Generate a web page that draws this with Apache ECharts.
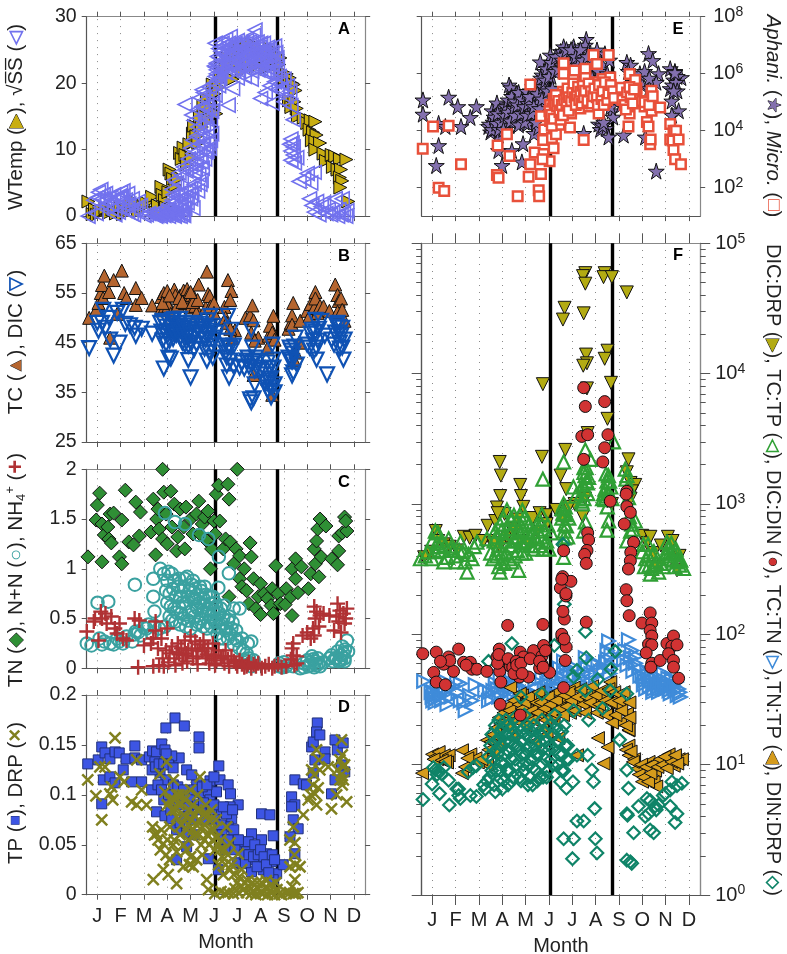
<!DOCTYPE html>
<html>
<head>
<meta charset="utf-8">
<title>Seasonal water chemistry</title>
<script src="https://cdn.jsdelivr.net/npm/echarts@6/dist/echarts.min.js"></script>
<style>
html,body{margin:0;padding:0;background:#fff;}
#main{width:787px;height:954px;}
</style>
</head>
<body>
<div id="main"></div>
<script>
var monthNames = ['J','F','M','A','M','J','J','A','S','O','N','D'];
var monthTicks = [1,2,3,4,5,6,7,8,9,10,11,12];
var boldMonths = [6.07,8.7];

// A
var wtemp = [[.62,2.2],[.8,.3],[.9,1],[.98,.2],[1.1,.6],[1.2,.8],[1.35,1.2],[1.5,.5],[1.65,1],[1.8,.4],[2,1.4],[2.1,.3],[2.25,.9],[2.45,1.8],[2.6,2.2],[2.75,.7],[2.95,1.4],[3.1,2],[3.35,2.9],[3.5,.6],[3.6,1.6],[3.75,4.4],[3.8,3.2],[3.9,2.4],[3.95,1.3],[4.05,3.6],[4.1,7],[4.18,6.4],[4.25,5.6],[4.35,4.6],[4.45,5.6],[4.55,9.5],[4.62,8.6],[4.7,10.3],[4.78,9.2],[4.85,7.8],[4.95,10.8],[5.05,8.8],[5.1,12.4],[5.15,13.6],[5.25,12],[5.33,11],[5.4,14.9],[5.48,13.4],[5.55,16.6],[5.62,15],[5.7,17.6],[5.78,14.4],[5.88,16.5],[5.95,19.8],[6.02,18.4],[6.1,15.4],[6.2,19.4],[6.3,21],[6.4,20.6],[6.5,22.4],[6.6,23.8],[6.7,22.6],[6.8,20.6],[6.9,24.6],[7,23.2],[7.1,25.4],[7.2,21.8],[7.3,24.2],[7.4,25.6],[7.5,23],[7.6,26],[7.7,24.6],[7.8,22.6],[7.9,25.4],[8,23.6],[8.1,25],[8.2,22.2],[8.3,24.4],[8.4,25.2],[8.5,23.4],[8.6,24.6],[8.72,24.2],[8.8,22.8],[8.85,23.8],[8.95,21.4],[9.05,20.8],[9.12,21.4],[9.25,20.8],[9.35,20],[9.42,19.8],[9.5,18.9],[9.22,17.4],[9.32,16.4],[9.45,17.2],[9.55,16.2],[9.6,15],[9.85,14.8],[10,14],[10.15,14.4],[10.35,14.2],[10.1,13],[10.25,12.6],[10.4,12.2],[10.2,11.4],[10.35,11.2],[10.55,11],[10.35,10],[10.7,9.4],[10.8,8.3],[11.05,9.2],[11.2,9],[11.4,8.6],[11.68,8.5],[11.1,7.4],[11.3,7],[11.45,7],[11.4,5.8],[11.5,5.3],[11.42,4.3],[11.76,2.2]];
var sqrtSS = [[.6,0],[.95,.4],[1,2.8],[1.05,3.6],[1.15,4],[1.25,3.2],[1.3,2.4],[1.4,1.6],[1.5,2.8],[1.6,1],[1.7,3.2],[1.75,.2],[1.85,2.6],[1.95,3],[2,3.6],[2.1,1.8],[2.1,3.8],[2.2,2.4],[2.3,.8],[2.3,3.4],[2.45,.4],[2.55,.2],[2.65,1],[2.75,2.2],[3,.1],[3.1,.2],[3.2,.4],[3.4,.2],[3.5,0],[3.6,.6],[3.7,0],[3.8,1],[3.9,.2],[4,.8],[4.05,0],[4.15,.2],[4.2,1.4],[4.3,0],[4.4,.6],[4.5,1.6],[4.55,0],[4.65,.4],[4.75,1.2],[4.35,2.2],[4.45,3.2],[4.6,3.6],[4.7,2.4],[4.8,3],[4.9,3.8],[5,4.2],[5,2.6],[5.15,4.8],[5.3,3.8],[5.4,4.8],[5.45,5.4],[4.2,4],[4.3,5.4],[4.4,5],[4.5,6.5],[4.6,6],[4.7,7.4],[4.8,6.8],[4.9,8.6],[5,7.8],[5.1,9.4],[5.2,7],[5.3,10.6],[5.4,9.2],[5.5,7.2],[5.55,10.8],[5.65,9.6],[5.8,10.2],[5.85,11.4],[5.9,12.4],[5.7,13.2],[5.5,11.8],[5.25,12],[5.4,12.8],[5.1,11.4],[5,10.2],[4.76,16.8],[5.05,15.2],[5.15,14.4],[5.3,16],[5.4,17.8],[5.5,16.5],[5.55,18.6],[5.6,15],[5.7,17.6],[5.8,19.4],[5.85,14.6],[5.95,17],[6,20],[6.05,18.2],[6.2,19.6],[6.61,16.7],[6.1,22],[6.05,21],[6.1,23],[6.05,26],[6.2,22.6],[6.3,21.8],[6.2,25.2],[6.35,26],[6.5,26.6],[6.7,27],[6.9,26],[6.4,24.4],[6.5,23.2],[6.6,25.4],[6.7,22.4],[6.8,24.6],[6.9,25.8],[7,23.6],[7,26.4],[7.1,24.8],[7.2,25.8],[7.2,22.8],[7.3,24.2],[7.4,26.4],[7.5,25],[7.5,22.4],[7.6,26],[7.7,27.2],[7.76,28],[7.8,25.6],[7.8,23.4],[7.9,24.6],[8,26],[8,22.2],[8.1,25],[8.2,23.4],[8.3,25.4],[8.3,21.6],[8.4,24],[8.5,22.6],[8.6,25.6],[8.6,20.2],[8.7,23.8],[7,20.8],[7.3,21],[7.6,20.6],[6.8,19.2],[8,17.7],[8.2,18.6],[8.4,19.6],[8.5,17],[8.7,19],[8.85,20],[9,17.2],[9.1,18],[9.25,18.8],[9.3,16.6],[9.4,14.5],[9.3,11.6],[9.35,11],[9.4,10.4],[9.25,10.8],[9.3,9.8],[9.4,9.2],[9.55,8.8],[9.3,8.4],[9.45,8],[9.65,5.2],[9.85,5.6],[10,6.4],[10.15,5],[10.3,6.6],[10.1,2.6],[10.2,1.6],[10.3,.6],[10.4,2.2],[10.5,.2],[10.6,1.4],[10.7,2],[10.8,.4],[10.9,1],[11,.2],[11.1,.6],[11.2,2.6],[11.3,0],[11.35,1],[11.45,.2],[11.5,2.6],[11.55,.4],[11.65,0],[11.7,.8],[6.15,24],[6.25,23.8],[6.3,24.8],[6.35,22.8],[6.42,25.6],[6.48,21.6],[6.55,24],[6.62,22.8],[6.62,26],[6.7,24],[6.75,25.4],[6.78,23],[6.85,23.4],[6.85,21.8],[6.92,24.4],[6.95,22.6],[7.02,25],[7.05,21.9],[7.1,23.4],[7.15,26],[7.18,24.4],[7.25,23],[7.28,25],[7.33,22.2],[7.38,25],[7.42,23.2],[7.45,24.2],[7.52,26.2],[7.55,23.6],[7.6,24.4],[7.62,21.8],[7.68,25.4],[7.72,23],[7.75,24.2],[7.85,26.2],[7.88,22],[7.92,23.4],[7.95,25.4],[8.02,24.2],[8.05,23],[8.12,26],[8.15,21.6],[8.18,24.4],[8.25,22.4],[8.28,24.8],[8.35,23],[8.38,25.2],[8.45,21.4],[8.48,24.6],[8.55,23.4],[8.62,21.8],[8.65,24.6],[8.72,22.4],[8.8,21],[8.9,19],[9,20.6],[9.15,19.6],[6.1,21.4],[6.18,21.2],[6.25,20.8],[6.08,22.4],[6.02,22.6],[6.15,20.4],[3.45,.5],[3.55,.1],[3.65,.3],[3.75,.5],[3.85,.1],[3.95,.4],[4.1,.6],[4.25,.3],[4.35,.9],[4.45,.1],[4.6,1],[4.7,.1],[4.2,2.4],[4.05,1.8],[4.25,3.2],[4.55,2.6],[4.85,2],[5.05,3.4],[5.1,1.2],[.85,2.4],[1.15,1.4],[1.2,2.6],[1.35,3.4],[1.55,1.8],[1.8,1.4],[1.9,.6],[2.05,2.8],[2.35,1.8],[2.5,2.6],[2.85,1.6],[5.15,6.4],[5.25,8.4],[5.35,6.2],[5.45,8.2],[5.6,8.6],[5.7,9.8],[5.75,11],[5.3,13.4],[5.55,13.8],[5.65,14.6],[5.75,16],[5.9,15.8],[5.65,16.4],[5.5,19],[5.9,18.4]];

// B
var tc = [[.65,50],[.95,51.6],[1.05,53],[1.15,55],[1.2,56.6],[1.3,58.5],[1.25,54],[1.5,55.2],[1.7,57.6],[2.05,59.5],[2.15,55],[2.25,54],[2.65,56],[2.65,52.6],[2.9,54],[3.35,52.5],[3.7,51.5],[3.75,54.2],[3.85,55],[3.9,52.3],[3.95,53.6],[4,55.4],[4.05,52.4],[4.15,50.8],[4.3,55.7],[4.35,54.5],[4.45,52.6],[4.55,54.5],[4.7,55.5],[4.75,53],[4.85,55.8],[4.9,54.8],[4.95,53.4],[5,52.1],[5.05,54.6],[5.15,54.2],[5.2,52.4],[5.25,50.9],[5.35,56.7],[5.65,52],[5.7,59.3],[5.75,54.8],[5.82,54.4],[5.85,52.3],[6,53],[6,51],[6.45,52.2],[6.5,50],[6.55,49],[6.6,57.6],[6.75,55.4],[6.7,53.6],[6.9,47.5],[6.8,46],[6.7,47.8],[7.35,50],[7.55,50.5],[7.65,52.5],[7.7,49.5],[7.6,47],[7.9,46],[7.75,45.4],[8.3,44],[8.35,46.4],[8.4,48.4],[8.55,50.4],[8.5,47],[8.6,45.6],[9.2,47.8],[9.3,49],[9.35,50.5],[9.35,48.6],[9.4,53],[9.7,49.4],[10,51.4],[10.1,50.4],[10.15,52.8],[10.3,52],[10.35,55.2],[10.35,53.9],[10.45,51],[10.55,52.4],[10.7,52.3],[10.95,51.4],[11.2,56.7],[11.3,54.6],[11.35,53.4],[11.3,51.2],[11.45,53.9],[11.6,49.4],[11.5,51.6],[9.65,45],[9.5,43],[9.45,41.4],[7.7,38.5],[8.5,34.5],[1.55,46],[1.85,50.8],[3.8,53],[4.1,54.5],[4.5,54],[4.65,53.2],[5.1,53.2],[5.3,53.6],[5,55.2]];
var dic = [[.65,43.9],[1,49],[1.05,47.4],[1.2,49],[1.25,51.6],[1.35,48],[1.5,50],[1.55,45.6],[1.7,42.4],[1.85,51],[1.95,45],[2.1,51.6],[2.2,48.8],[2.4,48.5],[2.6,48],[2.65,46.4],[2.9,47.8],[3.35,46.8],[3.7,49],[3.75,47.2],[3.8,45.4],[3.85,39.8],[3.95,48.2],[3.95,44.8],[4.05,42],[4.15,41.8],[4.15,47.4],[4.2,49.6],[4.25,45.8],[4.35,48.4],[4.4,46.6],[4.5,49],[4.6,47.4],[4.65,45],[4.8,48.8],[4.85,46],[4.9,44.4],[4.9,41.5],[5,47.8],[5,38],[5.1,48.4],[5.15,46.4],[5.15,43.6],[5.3,47.6],[5.5,48.4],[5.55,45.8],[5.6,43.8],[5.7,41.4],[5.72,49.5],[5.75,46.6],[5.85,50.4],[5.9,47.4],[5.9,44.4],[5.95,42],[6,48.4],[6.1,47],[6.45,44.4],[6.5,43],[6.55,40.4],[6.6,50.4],[6.6,44],[6.65,38],[6.75,47.6],[6.7,41.4],[6.85,44.4],[6.85,40.2],[7.1,40],[7.4,41.4],[7.5,40.2],[7.6,47.6],[7.65,44],[7.7,41.2],[7.75,36.6],[7.55,33.6],[7.6,33],[7.7,33.8],[7.85,40],[7.9,41.4],[8,39.6],[8.2,37],[8.25,38.6],[8.3,41],[8.3,35.4],[8.4,36],[8.45,37.8],[8.45,34],[8.5,44.6],[8.55,41.6],[8.6,36.6],[9.2,42],[9.3,43.4],[9.35,41.2],[9.4,39],[9.45,44.2],[9.5,46],[9.55,40.6],[10,44.6],[10.15,46.8],[10.25,45.4],[10.35,49.6],[10.35,47.2],[10.4,44],[10.4,41.6],[10.6,49.4],[10.75,46.4],[10.85,38.6],[11.05,45.6],[11.15,44.6],[11.3,49],[11.35,47],[11.4,45],[11.5,48],[11.6,45.6],[11.55,41.6],[11.4,43.8],[3.8,49.4],[3.9,47],[4,46.4],[4.05,49],[4.1,45.4],[4.2,48],[4.3,46.8],[4.3,49.8],[4.45,47.6],[4.55,46],[4.55,49.8],[4.7,48],[4.7,46.4],[4.75,44.6],[4.95,47],[5.05,49],[5.05,45],[5.2,47.2],[5.25,44.8],[5.4,48.8],[5.45,46.8],[5.6,47.8],[5.65,45.6],[5.8,48],[5.8,43],[5.95,45.6],[6.05,46],[6.5,45.4],[6.55,42],[6.7,44],[7.2,41],[7.3,39.8],[7.45,42],[7.6,40.8],[7.75,39.4],[7.8,42],[8.35,37.4],[8.4,39.8],[8.5,36],[8.55,40],[8.6,35],[9.25,44],[9.3,41.6],[9.4,42.8],[9.35,38.4],[10.1,44],[10.2,47.6],[10.3,43.4],[10.45,45.4],[10.5,47.8],[11.2,47],[11.25,48.6],[11.45,46.4],[11.35,48.2],[11.5,44]];

// C
var tn = [[.6,1.12],[.95,1.49],[1,1.64],[1.1,1.76],[1.2,1.45],[1.2,1.07],[1.3,1.34],[1.45,1.42],[1.5,1.3],[1.55,1.55],[1.7,1.56],[1.6,1.26],[1.95,1.12],[2.05,1.05],[2.05,1.49],[2.2,1.79],[2.35,1.27],[2.55,1.24],[2.65,1.67],[2.8,1.33],[2.85,1.57],[3.3,1.37],[3.4,1.7],[3.5,1.14],[3.55,1.5],[3.6,1.6],[3.65,1.4],[3.8,2],[3.8,1.3],[3.85,1.77],[3.95,1.55],[4,1.25],[4.15,1.78],[4.2,1.42],[4.3,1.65],[4.4,1.18],[4.45,1.32],[4.55,1.6],[4.7,1.42],[4.75,1.2],[4.8,1.62],[5,1.5],[5.1,1.35],[5.25,1.55],[5.35,1.68],[5.4,1.35],[5.5,1.45],[5.6,1.52],[5.7,1.28],[5.75,1.58],[5.85,1],[5.9,1.2],[6,1.48],[6.05,1.35],[6.1,1.75],[6.2,1.84],[6.25,1.48],[6.4,1.2],[6.5,1.3],[6.6,1.85],[6.65,1.7],[6.7,1.27],[6.65,.72],[6.85,1.05],[6.95,1.2],[7,2],[7.1,.9],[7.1,1.13],[7.2,.82],[7.3,1],[7.4,.78],[7.5,.65],[7.55,1.26],[7.6,1.12],[7.7,.9],[7.8,.6],[7.9,.72],[8,.85],[8,.54],[8.15,.75],[8.3,.7],[8.45,.63],[8.5,.8],[8.55,.55],[8.65,1.03],[8.75,.75],[8.85,.65],[9.05,.64],[9.1,.8],[9.3,.72],[9.35,1],[9.5,1.1],[9.5,.9],[9.6,.76],[9.35,.53],[9.75,1.02],[10.05,.8],[10.15,.95],[10.3,1.2],[10.4,1.28],[10.45,1.4],[10.5,.92],[10.35,1.05],[10.55,1.5],[10.6,1.12],[10.8,1.43],[11.05,1.1],[11.3,1.04],[11.35,1.18],[11.35,1.33],[11.5,1.36],[11.6,1.52],[11.7,1.38],[11.65,1.48]];
var nn = [[.55,.25],[.75,.23],[1.01,.66],[1.1,.3],[1.47,.67],[1.3,.27],[1.7,.24],[1.95,.27],[2.25,.32],[2.5,.27],[2.61,.84],[2.65,.37],[2.85,.33],[3.1,.4],[3.35,.35],[3.4,.9],[3.4,.72],[3.45,.57],[3.65,.4],[3.7,1],[3.85,.95],[3.9,.42],[3.95,.78],[4,.66],[4.05,.97],[4.1,.52],[4.2,.95],[4.25,.8],[4.3,.6],[4.35,.47],[4.5,.9],[4.55,.72],[4.6,.55],[4.7,.82],[4.8,.65],[4.85,.92],[4.9,.48],[5,.78],[5.05,.58],[5.1,.88],[5.2,.7],[5.25,.44],[5.3,.6],[5.4,.82],[5.45,.5],[5.55,.7],[5.6,.82],[5.7,.4],[5.75,.55],[5.85,.65],[5.95,.72],[6,.48],[6.1,.62],[6.15,.35],[6.25,.55],[6.35,.45],[6.45,.63],[6.5,.38],[6.6,.3],[6.65,.52],[6.8,.46],[6.85,.6],[6.9,.3],[7,.28],[7.1,.2],[7.1,.6],[7.2,.3],[7.45,.25],[7.6,.27],[7.5,.1],[7.6,.02],[8.8,.05],[9,.06],[9.4,.02],[9.7,0],[9.85,.05],[10,.08],[10.1,.03],[10.2,.12],[10.3,.01],[10.35,.07],[10.45,.1],[10.55,.02],[10.7,.06],[10.95,.1],[11.05,.13],[11.2,.1],[11.3,.17],[11.4,.09],[11.5,.22],[11.6,.1],[11.7,.28],[11.75,.17],[3.9,1.56],[4.33,1.47],[4.76,1.45],[5.36,1.34],[5.76,1.3],[6.21,1.12],[6.64,.955],[6.19,.81],[4,.88],[4.1,.75],[4.15,.62],[4.2,.48],[4.3,.88],[4.35,.72],[4.4,.56],[4.45,.82],[4.5,.62],[4.55,.44],[4.6,.78],[4.65,.66],[4.7,.5],[4.75,.9],[4.8,.42],[4.9,.72],[4.95,.56],[5,.4],[5.05,.84],[5.1,.7],[5.15,.52],[5.2,.8],[5.25,.62],[5.3,.74],[5.35,.46],[5.4,.66],[5.45,.78],[5.5,.58],[5.55,.42],[5.6,.64],[5.65,.74],[5.7,.6],[5.75,.46],[5.8,.72],[5.85,.52],[5.9,.42],[5.95,.58],[6.05,.66],[6.1,.48],[6.15,.56],[6.2,.42],[6.3,.6],[6.4,.5],[6.55,.4],[6.6,.48],[6.7,.34],[6.75,.4],[6.95,.38],[6.25,.3],[6.4,.3],[6.85,.24],[7.25,.18],[7.4,.15],[7.35,.08],[7.55,.05],[7.7,.08],[8.8,.02],[8.95,.01],[9.1,.02],[9.85,.01],[10.05,.02],[10.15,.06],[10.25,.09],[10.4,.03],[10.5,.05],[11.1,.07],[11.25,.1],[11.35,.07],[11.45,.13],[11.55,.15],[11.62,.19],[11.45,.08],[11.6,.07],[2.6,.34],[2.75,.36],[3,.41],[3.2,.44],[3.45,.43],[1.2,.24],[1.55,.25],[1.85,.3],[2.1,.25]];
var nh4 = [[.55,.37],[.85,.47],[.9,.5],[1.05,.28],[1.15,.57],[1.2,.5],[1.35,.55],[1.4,.45],[1.6,.52],[1.75,.4],[1.85,.35],[1.95,.45],[2.1,.3],[2.25,.28],[2.6,.5],[2.8,.48],[2.75,.01],[3,.23],[3.3,.25],[3.4,.3],[3.4,.02],[3.5,.47],[3.5,.38],[3.6,.2],[3.65,.03],[3.75,.3],[3.8,.1],[3.85,.02],[3.95,.18],[4,.4],[4.05,.06],[4.2,.22],[4.3,.1],[4.35,.03],[4.45,.25],[4.5,.14],[4.65,.05],[4.75,.28],[4.8,.15],[4.85,.07],[5,.32],[5.05,.2],[5.2,.27],[5.25,.12],[5.3,.04],[5.4,.24],[5.5,.17],[5.55,.28],[5.65,.1],[5.75,.2],[5.8,.05],[5.95,.25],[6,.13],[6.05,.03],[6.2,.18],[6.3,.1],[6.45,.05],[6.5,.18],[6.65,.02],[6.75,.12],[6.85,.07],[7,.02],[7.1,.08],[7.3,.01],[7.45,.04],[7.5,.06],[7.6,0],[7.8,.02],[7.9,.05],[8.05,0],[8.2,.02],[8.35,.04],[8.5,0],[8.6,.02],[8.75,.04],[8.9,.01],[9.1,.02],[9.3,.09],[9.35,.2],[9.4,.25],[9.4,.13],[9.45,.03],[9.55,.05],[9.55,.12],[9.8,.33],[10,.36],[10.15,.3],[10.25,.4],[10.3,.33],[10.3,.62],[10.35,.5],[10.4,.57],[10.5,.42],[10.55,.53],[10.7,.55],[10.95,.53],[11.15,.38],[11.25,.52],[11.3,.65],[11.35,.47],[11.4,.58],[11.45,.36],[11.55,.55],[11.6,.45],[11.65,.5],[11.7,.6],[4.1,.15],[4.4,.16],[4.6,.2],[4.7,.13],[4.9,.18],[5.1,.1],[5.3,.18],[5.6,.2],[5.7,.14],[5.9,.12],[6.1,.08],[6.4,.12],[6.6,.09],[6.95,.05],[7.2,.04],[7.4,.02],[7.7,.04]];

// D
var tp = [[.59,.131],[1.04,.135],[1.19,.148],[1.33,.142],[1.19,.091],[1.26,.115],[1.54,.118],[1.54,.136],[1.76,.143],[1.94,.142],[1.76,.112],[2.11,.125],[2.23,.136],[2.47,.113],[2.61,.149],[2.61,.137],[2.9,.113],[2.9,.135],[3.23,.138],[3.37,.144],[3.54,.143],[3.47,.133],[3.76,.151],[3.9,.145],[3.94,.167],[4.33,.177],[4.73,.169],[4.51,.137],[4.19,.139],[3.95,.141],[4.83,.125],[5.36,.158],[5.36,.147],[3.54,.083],[3.9,.079],[3.33,.105],[3.69,.122],[3.94,.115],[4.26,.11],[4.33,.098],[4.19,.076],[4.4,.065],[4.4,.035],[4.83,.048],[4.61,.093],[5.26,.11],[4.9,.088],[5.4,.102],[5.76,.036],[5.83,.114],[5.76,.104],[5.83,.095],[6.11,.103],[6.21,.129],[6.26,.115],[6.61,.11],[6.71,.101],[7.04,.09],[6.69,.088],[6.76,.076],[6.26,.083],[6.19,.068],[6.54,.081],[6.61,.068],[6.19,.025],[7.11,.05],[7.26,.053],[7.61,.061],[7.47,.053],[7.19,.031],[7.54,.035],[7.61,.023],[7.4,.043],[8.04,.081],[8.4,.08],[8.54,.059],[8.04,.055],[7.97,.031],[8.11,.025],[8.47,.033],[8.69,.021],[8.54,.015],[8.26,.041],[8.97,.03],[9.33,.098],[9.47,.09],[9.33,.088],[9.4,.075],[9.61,.066],[9.26,.058],[9.47,.041],[9.47,.115],[9.83,.111],[9.97,.11],[10.19,.148],[10.26,.153],[10.43,.172],[10.4,.163],[10.54,.16],[10.33,.135],[10.26,.122],[10.76,.143],[10.76,.136],[11.04,.101],[11.19,.155],[11.29,.145],[11.19,.115],[11.54,.152],[11.61,.123],[11.47,.13],[3.35,.125],[3.5,.128],[3.65,.131],[3.6,.11],[3.75,.105],[3.85,.131],[3.85,.095],[4.05,.13],[4.05,.1],[4.15,.085],[4.25,.127],[4.45,.108],[4.5,.09],[4.55,.072],[4.7,.105],[4.75,.078],[4.85,.062],[4.95,.098],[5.05,.12],[5.05,.075],[5.15,.105],[5.15,.06],[5.3,.09],[5.45,.085],[5.5,.108],[5.55,.092],[5.65,.075],[5.7,.11],[5.9,.085],[6,.118],[6,.09],[6.05,.075],[6.3,.07],[6.35,.06],[6.4,.088],[6.45,.055],[6.5,.045],[6.6,.055],[6.8,.085],[6.85,.065],[6.9,.045],[7,.032],[7.05,.055],[7.3,.04],[7.35,.032],[7.5,.04],[7.7,.038],[7.75,.05],[7.85,.028],[7.9,.04],[8,.045],[8.15,.038],[8.25,.03],[8.35,.022],[8.5,.04],[8.6,.035]];
var drp = [[.59,.115],[.94,.099],[1.19,.075],[1.11,.128],[1.33,.128],[1.54,.101],[1.66,.095],[1.76,.157],[1.61,.108],[1.97,.118],[2.14,.113],[2.47,.093],[2.69,.135],[2.69,.09],[2.9,.105],[3.11,.09],[3.4,.015],[3.37,.068],[3.54,.061],[3.83,.051],[3.83,.025],[4.04,.02],[4.4,.011],[3.9,.103],[3.69,.121],[3.97,.133],[4,.09],[4.26,.115],[4.4,.078],[4.61,.091],[4.11,.068],[4.4,.043],[4.69,.028],[5.11,.028],[4.9,.055],[4.83,.045],[5.26,.035],[5.4,.118],[5,.105],[5.26,.085],[5.61,.081],[5.69,.015],[5.76,.005],[5.83,.074],[6.11,.057],[6.04,.001],[6.26,.045],[6.4,.02],[6.54,.068],[6.47,.001],[6.69,.052],[6.83,.001],[7.04,.041],[7.19,.025],[7.26,.005],[7.4,.002],[7.5,.008],[7.6,.001],[7.7,.004],[7.8,0],[7.9,.006],[8,.002],[8.1,.001],[8.2,.007],[8.3,0],[8.4,.004],[8.5,.002],[8.6,0],[8.7,.005],[8.8,.001],[8.9,0],[6.3,.003],[6.6,.002],[6.9,.006],[7.05,.002],[7.15,.008],[9.25,.002],[9.35,.008],[9.5,.001],[9.6,.002],[4.5,.1],[4.7,.08],[4.9,.07],[5.1,.09],[5.2,.06],[5.35,.075],[5.5,.068],[5.6,.055],[5.9,.085],[6,.065],[6.15,.05],[6.35,.038],[6.5,.03],[6.75,.03],[4.3,.055],[4.55,.06],[5,.038],[5.5,.04],[9.4,.068],[9.47,.052],[9.26,.055],[9.47,.015],[9.4,.001],[9.26,.028],[9.69,.028],[9.83,.08],[10.04,.095],[10.19,.125],[10.33,.101],[10.4,.145],[10.47,.107],[10.54,.125],[10.9,.128],[11.04,.086],[11.26,.1],[11.4,.115],[11.54,.128],[11.47,.155],[11.69,.093],[11.6,.13],[11.5,.11],[11.4,.135],[3.45,.06],[3.6,.055],[3.7,.045],[3.75,.065],[3.95,.04],[4,.055],[4.1,.095],[4.1,.035],[4.2,.085],[4.25,.05],[4.3,.095],[4.35,.085],[4.4,.1],[4.5,.09],[4.6,.07],[4.65,.1],[4.7,.05],[4.75,.095],[4.8,.078],[4.85,.065],[4.95,.085],[4.95,.03],[5.05,.075],[5.1,.065],[5.15,.08],[5.25,.07],[5.3,.1],[5.35,.06],[5.4,.085],[5.45,.05],[5.55,.08],[5.6,.07],[5.65,.09],[5.7,.06],[5.75,.08],[5.8,.05],[5.85,.065],[5.95,.055],[6.05,.045],[6.1,.075],[6.2,.03],[6.3,.055],[6.45,.045],[6.6,.04],[6.7,.025],[6.85,.02],[7,.012],[7.1,.018],[7.3,.012],[7.45,.014],[7.65,.012],[7.85,.012],[8.05,.012],[8.25,.014],[8.45,.01],[8.65,.012],[9.1,.002],[9.45,.04],[9.5,.03],[10.15,.1],[10.25,.11],[10.3,.12],[10.4,.09],[10.5,.135],[11.45,.12],[11.5,.14],[11.3,.125],[11.55,.115]];

// E
var aphani = [[.6,1.2e5],[.6,3.8e4],[1.27,1.8e4],[1.56,1.4e4],[1.27,3e3],[1.17,6e2],[1.7,1.5e5],[2.09,7e4],[2.23,1.4e4],[2.63,2.9e4],[2.89,7e4],[3.41,1.4e4],[3.5,9e3],[3.56,5e4],[3.77,9.4e4],[3.84,7e3],[3.84,2e3],[3.99,6e2],[4.29,4e5],[4.36,3.2e5],[4.41,2e3],[4.84,8e2],[4.89,3.5e3],[5.36,8e3],[5.3,1.3e5],[4.7,1.4e5],[3.6,2e4],[3.7,1.2e4],[3.9,3e4],[4,1.6e4],[4.05,5e4],[4.15,2.4e4],[4.2,8e4],[4.3,1.5e4],[4.4,3.6e4],[4.45,6e4],[4.5,2.5e4],[4.6,2e5],[4.65,4.5e4],[4.75,2.2e4],[4.8,8e4],[4.9,3e4],[5,1.2e5],[5,5e4],[5.1,1.8e4],[5.2,7e4],[5.2,2.5e5],[5.4,3.5e4],[5.45,1e5],[5.5,5e5],[5.55,1.3e4],[5.6,2e5],[5.63,2.6e6],[5.7,9e5],[5.75,7e4],[5.8,1.2e6],[5.9,3e5],[6,1.2e5],[6.06,4.5e6],[6.1,8e5],[6.2,2e6],[6.3,2e5],[6.4,4e6],[6.5,6e6],[6.63,8.8e6],[6.7,3e6],[6.8,5e6],[6.9,2.5e6],[7.06,8.8e6],[7.1,6e6],[7.2,3.5e6],[7.3,5e5],[7.4,2e6],[7.49,8e3],[7.6,1.6e7],[7.56,1e7],[7.7,6e6],[7.8,3e6],[7.9,1.5e6],[8,6e5],[8.06,6.8e6],[8.13,1.7e4],[8.2,1.1e4],[8.3,2e6],[8.4,5e6],[8.45,1.2e4],[8.56,6e3],[8.6,3e6],[8.7,5e4],[8.75,3e4],[9,2e5],[9.1,8e4],[9.2,7e3],[9.34,2.5e6],[9.5,2e6],[9.7,8e5],[10,4e5],[10.13,6e3],[10.27,5.1e6],[10.45,2.9e6],[10.3,3e5],[10.7,1e6],[10.6,5e5],[10.6,3.8e2],[11.2,1.5e6],[11.4,1.2e6],[11.67,7.3e5],[11.35,6e5],[11.2,3e5],[11.3,4e5],[11.27,1.1e5],[11.56,5e4],[11.27,3.5e4],[3.45,1.7e4],[3.55,1.1e4],[3.65,3e4],[3.75,1.8e4],[3.8,4e4],[3.85,1.1e4],[3.95,2e4],[4.05,1.1e4],[4.1,3.5e4],[4.15,7e4],[4.25,4.5e4],[4.25,1.2e5],[4.35,2.2e4],[4.4,1.6e5],[4.5,6e4],[4.55,1.1e5],[4.55,3.5e4],[4.65,8e4],[4.7,2.2e5],[4.7,1.6e4],[4.8,4e4],[4.85,1.3e5],[4.95,7e4],[4.95,2e4],[5.05,2.4e5],[5.05,3.5e4],[5.1,9e4],[5.15,1.6e5],[5.25,4e4],[5.3,3.5e5],[5.35,7e4],[5.45,2e4],[5.5,2e5],[5.6,6e4],[5.65,7e5],[5.7,1.3e5],[5.75,3.5e5],[5.85,6e5],[5.9,1.5e6],[5.95,2.5e5],[6,8e5],[6.1,2.5e6],[6.15,3e5],[6.25,1.2e6],[6.3,4e6],[6.4,1.5e6],[6.55,3e6],[6.6,4.5e6],[6.75,7e6],[6.85,1.8e6],[6.95,7e6],[7,2.5e6],[7.15,4e6],[7.25,2e6],[7.35,7e6],[7.45,3e6],[7.65,4e6],[7.75,1.2e6],[7.85,7e5],[8.1,3e6],[8.15,1.2e6],[8.25,4e5],[8.3,1.5e4],[8.35,2e4],[8.5,1e6],[8.55,2e5],[8.6,1.2e5],[8.65,7e4],[8.65,1.5e5],[8.8,1.2e5],[9.4,1.2e6],[9.55,8e5],[9.6,5e5],[9.9,1e6],[10.1,1.2e6],[10.3,7e5],[11.5,8e5],[11.45,5e5],[11.5,2.5e5],[11.35,2.5e5],[11.4,1.1e6]];
var micro = [[.59,2.3e3],[1.03,1.4e4],[1.7,1.5e4],[2.23,6.6e2],[1.27,98],[1.51,76],[3.77,2.8e2],[3.84,2.2e2],[3.8,3e3],[4.2,7.4e3],[4.31,1.3e3],[4.66,50],[5.2,4.2e5],[5.13,240],[5.2,6.6e2],[5.56,81],[5.58,50],[5.66,300],[5.39,1.7e3],[5.77,1.5e3],[5.66,3.2e4],[5.8,1.1e4],[5.75,4.7e3],[6.2,2.4e3],[6.03,8.5e2],[5.72,1e3],[6.13,5.5e3],[6.3,7.5e3],[6.05,8e4],[6.2,1.3e5],[6.05,2.2e4],[6.15,6e4],[6.35,3e4],[6.45,1.6e4],[6.5,1.5e5],[6.6,2.3e5],[6.63,2.3e6],[6.63,1e6],[6.7,6e4],[6.9,1.3e4],[6.95,4e4],[7.09,1.3e6],[7.05,6e5],[7.05,2.8e5],[7.2,9e4],[7.35,6e4],[7.49,4.7e3],[7.56,1.5e6],[7.56,7e5],[7.6,3.5e5],[7.7,7e4],[7.75,2e5],[7.91,4.5e6],[7.99,5e5],[8.06,2.2e6],[8.1,1.2e5],[8.13,4e4],[8.2,2.8e5],[8.3,6.5e5],[8.4,1.8e5],[8.42,1e5],[8.56,4.5e6],[8.56,3e5],[8.63,7.4e5],[8.7,1.6e5],[9,2.6e5],[9.2,1.8e5],[9.3,3e5],[9.46,9.7e5],[9.41,1.4e4],[9.46,4e4],[9.41,7e4],[9.45,1.2e5],[9.55,2.2e5],[9.7,6e5],[9.75,3e5],[9.75,2e5],[10.1,7e4],[10.2,2e4],[10.27,1.4e4],[10.34,3.3e3],[10.36,4.9e3],[10.4,1.8e5],[10.4,1.1e5],[10.4,5e4],[10.77,6.5e4],[11.2,1.7e4],[11.34,1e4],[11.45,1e4],[11.2,4.9e3],[11.3,4.5e3],[11.56,4.9e3],[11.34,2.1e3],[11.41,1e3],[11.66,6.6e2],[6.02,4.8e4],[6.1,3.6e4],[6.12,1.5e4],[6.2,2.6e4],[6.25,9e4],[6.3,1.8e5],[6.35,7e4],[6.4,1.1e5],[6.45,4.5e4],[6.5,2.4e4],[6.55,8e4],[6.6,3.5e4],[6.65,1.2e5],[6.75,1.9e5],[6.75,9e4],[6.8,3e5],[6.85,1.5e5],[6.85,5e4],[6.95,1.1e5],[7,2.2e5],[7.05,4.5e5],[7.1,1.5e5],[7.15,8e4],[7.2,1.9e5],[7.25,3.5e5],[7.3,1.2e5],[7.35,2.3e5],[7.4,9e4],[7.45,3.8e5],[7.5,1.5e5],[7.55,2.5e5],[7.65,1.1e5],[7.7,4.5e5],[7.8,2.4e5],[7.85,9e4],[7.9,1.6e5],[7.95,3e5],[8.05,1.5e5],[8.1,8e4],[8.15,4e5],[8.25,1.3e5],[8.3,2.4e5],[8.35,8e4],[8.4,5e5],[8.5,1.2e5],[8.55,2e5],[8.65,4e5],[8.75,2.4e5],[8.8,1.4e5],[9.1,3.2e5],[9.15,1.2e5],[9.25,8e4],[9.3,5.5e4],[9.35,2.2e5],[9.45,3.4e5],[9.5,1.5e5],[9.6,9e4],[9.65,2.8e5],[10,1.1e5],[10.1,1e5],[10.3,8e4],[10.4,2.5e5],[10.45,1.6e5]];

// F
var dicDrp = [[7.56,5.9e4],[7.46,5.6e4],[8.39,5.9e4],[8.34,5.5e4],[8.7,5.5e4],[7.56,4.9e4],[9.34,4.2e4],[6.67,3.2e4],[6.6,2.6e4],[7.49,2.9e4],[7.59,1.4e4],[8.51,1.5e4],[8.39,1.3e4],[7.63,1.2e4],[7.47,1.15e4],[5.74,8.3e3],[8.66,8.5e3],[7.63,7.7e3],[8.51,4.5e3],[7.66,3.5e3],[5.7,2.3e3],[6.7,2.6e3],[3.89,2.1e3],[3.94,1.65e3],[4.77,1.4e3],[9.41,2.2e3],[9.34,1.75e3],[9.5,1.45e3],[9.7,1.4e3],[6.5,1.65e3],[6.74,1.3e3],[3.91,1150],[4.8,1150],[3.77,940],[4.1,840],[3.37,680],[4.9,950],[5.3,780],[5.6,850],[5.9,820],[6.3,900],[6.6,760],[7.1,1000],[7.55,1100],[8.5,1050],[8.7,1000],[1.15,620],[1.25,520],[1.5,490],[1.75,470],[2.05,440],[2.35,560],[2.6,550],[2.85,570],[.65,390],[.95,430],[3.5,520],[3.9,470],[4.2,560],[4.5,610],[4.8,520],[5.1,490],[5.5,610],[5.9,700],[10,570],[10.2,500],[10.35,560],[10.5,420],[10.65,330],[10.8,480],[11.1,560],[11.3,520],[11.49,310],[11.6,400],[3.2,520],[3.6,500],[3.7,740],[3.8,850],[4.65,760],[4.4,640],[6.85,950],[7.45,800],[9.5,1100],[9.55,1250]];
var tcTp = [[.49,380],[1.13,620],[1.2,500],[.99,380],[1.41,440],[1.49,360],[1.7,540],[1.91,440],[2.21,510],[2.06,360],[2.49,300],[2.7,380],[2.91,510],[3.34,540],[3.77,400],[3.85,480],[3.91,300],[3.95,360],[4.05,560],[4.15,420],[4.25,650],[4.35,480],[4.4,360],[4.5,820],[4.6,560],[4.7,310],[4.86,890],[4.8,680],[4.9,500],[5,420],[5.1,600],[5.25,480],[5.4,560],[5.5,700],[5.7,830],[5.75,450],[5.9,520],[6.1,600],[6.55,920],[6.63,1000],[6.68,700],[6.63,390],[6.7,830],[6.8,560],[6.85,780],[7.44,1000],[7.56,730],[7.49,620],[8.49,630],[8.56,740],[9.41,1120],[9.7,740],[9.34,520],[9.5,620],[7.56,2600],[8.77,3000],[7.77,2200],[6.63,2100],[5.74,1550],[9.27,1850],[7.5,1750],[7.6,1500],[7.55,1300],[7.66,1200],[8.4,1300],[8.49,1500],[8.56,1200],[8.65,1350],[8.4,1080],[8.5,950],[7.05,1350],[7.15,1150],[7.4,1050],[9.4,1350],[9.35,1650],[11.06,510],[10,430],[10.1,330],[10.25,490],[10.35,290],[10.45,400],[10.55,340],[10.7,300],[11,400],[11.1,460],[11.2,430],[11.3,370],[11.4,330],[11.55,380],[11.77,320],[3.5,420],[3.6,380],[3.65,520],[3.7,620],[3.75,560],[3.8,450],[3.85,330],[3.9,700],[3.95,620],[4,420],[4.05,780],[4.1,350],[4.15,520],[4.2,900],[4.3,380],[4.3,600],[4.35,760],[4.4,480],[4.45,640],[4.55,520],[4.55,400],[4.6,720],[4.65,440],[4.7,620],[4.75,820],[4.8,520],[4.85,420],[4.9,640],[4.95,780],[5.05,520],[5.15,700],[5.2,560],[5.3,620],[5.35,450],[5.45,540],[5.55,620],[5.6,480],[5.65,720],[5.65,560],[5.8,640],[5.85,510],[5.95,690],[6,450],[6.55,780],[6.6,850],[6.65,620],[6.7,950],[6.75,680],[6.65,550],[7.5,1100],[7.55,1650],[7.6,1900],[7.45,1400],[7.65,1450],[7.7,1600],[7.5,1900],[7.4,1200],[8.35,1200],[8.45,1150],[8.45,1700],[8.55,1650],[8.6,1500],[8.7,1100],[8.3,1100],[9.3,1550],[.7,400],[.8,430],[1,520],[1.1,430],[1.25,600],[1.3,470],[1.4,520],[1.55,480],[1.65,390],[1.8,460],[2,400],[2.15,440],[2.3,430],[2.4,360],[2.55,410],[2.8,470],[10.05,490],[10.15,380],[10.25,400],[10.3,340],[10.4,320],[10.5,430],[10.6,360],[10.8,350],[10.9,330],[11.05,420],[11.15,380],[11.25,500],[11.35,420],[11.45,450],[11.5,360],[11.6,340],[11.65,370],[9.55,700],[9.45,800],[9.6,640]];
var dicDin = [[.59,71],[1.17,73],[1.06,51],[1.17,43],[1.56,41],[1.49,59],[1.7,67],[2.13,77],[1.91,52],[2.34,61],[2.63,61],[2.7,54],[2.91,54],[3.34,52],[3.87,77],[3.77,67],[3.91,61],[3.89,52],[3.94,43],[3.91,29],[4.34,57],[4.77,24],[4.23,117],[4.77,73],[4.91,67],[4.7,53],[4.73,47],[5.13,47],[5.34,75],[5.7,68],[5.77,82],[5.7,59],[5.6,55],[6.03,51],[5.74,119],[6.56,95],[6.74,80],[6.7,63],[6.63,39],[6.66,131],[6.63,438],[6.59,277],[6.94,255],[6.49,227],[6.73,197],[6.73,205],[7.6,124],[7.66,600],[7.7,530],[7.63,440],[7.53,410],[7.6,350],[7.49,7.8e3],[7.56,5.6e3],[8.39,6.1e3],[7.41,3.3e3],[7.66,3.4e3],[8.53,3.4e3],[8.39,2.7e3],[7.49,2.2e3],[8.31,2.1e3],[9.34,1250],[8.63,1050],[9.31,1190],[9.34,954],[9.49,862],[9.23,702],[9.63,508],[9.51,426],[9.49,367],[9.41,317],[9.31,220],[9.34,181],[9.44,139],[10.34,146],[9.99,122],[10.41,122],[10.34,107],[10.41,97],[10.27,84],[10.41,83],[10.17,72],[10.41,60],[10.37,56],[10.77,63],[11.06,85],[11.34,97],[11.27,81],[11.49,83],[11.13,71],[11.34,63],[11.34,56],[11.56,46],[3.8,60],[3.85,70],[4.25,65],[4.45,56],[4.5,50],[4.6,62],[4.62,58],[4.8,60],[4.85,50],[5.2,65],[5.6,62],[5.75,56],[5.85,75],[6.55,100],[6.65,92],[6.6,150],[6.55,265],[1.75,63],[1.35,62],[2.45,58]];
var tcTn = [[.63,43.6],[.99,33],[1.13,32],[1.05,36],[1.2,40],[1.35,34],[1.63,29],[1.49,44],[1.7,38],[2.2,42],[2.2,31],[2.41,26],[2.1,36],[2.7,31],[2.84,41],[3.41,31],[3.6,37],[3.91,47],[3.85,33],[4.21,33],[4.55,41],[5,37],[5.3,30],[5.63,33],[5.91,42],[6.1,38],[6.35,45],[6.63,50],[6.63,62],[6.7,42],[7.05,48],[7.3,43],[7.56,66],[7.65,55],[7.8,50],[8.1,59],[8.34,53],[8.43,61],[8.49,75],[8.56,89],[8.66,70],[8.7,57],[9.2,64],[9.41,91],[9.49,66],[9.7,60],[9.85,55],[10,48],[10.1,44],[10.2,52],[10.3,40],[10.4,47],[10.5,38],[10.6,45],[10.7,36],[10.8,42],[10.9,50],[11,38],[11.1,46],[11.2,35],[11.3,41],[11.4,37],[11.5,34],[11.63,33],[.95,36],[1.02,31],[1.08,35],[1.12,30],[1.25,33],[1.4,31],[1.55,35],[1.8,33],[1.9,40],[2.05,43],[2.35,30],[2.6,34],[3.25,37],[3.45,36],[3.55,32],[3.7,42],[3.8,38],[3.95,36],[4.05,40],[4.15,44],[4.3,37],[4.4,48],[4.5,35],[4.65,44],[4.75,38],[4.85,32],[5.1,42],[5.2,36],[5.4,44],[5.5,34],[5.7,46],[5.8,38],[6,44],[6.2,40],[6.45,55],[6.55,46],[6.75,56],[6.9,52],[7.15,55],[7.4,46],[7.5,50],[7.9,60],[8,48],[8.2,52],[8.5,65],[8.6,50],[9.25,75],[9.35,58],[9.55,75],[9.6,52],[9.75,68],[9.9,48],[10.05,41],[10.15,38],[10.25,48],[10.35,44],[10.45,36],[10.55,42],[10.65,39],[10.75,46],[10.85,38],[10.95,44],[11.05,41],[11.15,37],[11.25,46],[11.35,40],[11.45,43],[11.55,38],[11.6,36]];
var tnTp = [[.56,8.6],[.99,12],[1.13,11.5],[1.27,12.5],[1.2,11],[1.49,11.8],[1.7,11.8],[1.63,10.4],[2.27,12.9],[2.63,12],[2.27,8.6],[2.85,11.2],[3.34,10],[3.34,15.4],[3.6,12],[3.91,20.6],[4.34,23],[4.91,22],[5.7,25],[5.7,19],[6.56,29],[6.2,22],[7.2,11.8],[8.34,10.2],[8.51,13.6],[8.1,16],[9.41,18.3],[9.34,24.6],[9.05,21],[9.41,14],[9.41,11.8],[9.65,11],[9.77,9.3],[9.99,7.4],[10.27,10.5],[10.49,7.4],[10.2,8.2],[10.55,9],[11.06,10.8],[11.13,12],[11.56,11],[11.35,9.8],[11.7,11],[10.6,6.8],[4.34,39],[4.84,34],[5.7,26],[6.49,33],[7.06,39],[8.63,43],[8.2,33],[8.9,28],[9.34,24.6],[9.41,18.5],[7.7,36],[7.9,29],[7.3,30],[6.9,25],[6.3,36],[6.1,24],[5.4,28],[5.2,31],[4.6,25],[4.1,27],[3.7,17],[4.4,16],[5,20],[5.4,15],[5.9,17],[6.4,16],[3.4,13],[3.5,15],[3.6,17],[3.7,19],[3.8,14],[3.85,23],[4,21],[4.05,25],[4.2,19],[4.2,28],[4.3,26],[4.45,24],[4.5,31],[4.55,22],[4.7,29],[4.75,35],[4.85,27],[4.95,30],[5.05,24],[5.1,33],[5.25,26],[5.3,22],[5.45,30],[5.5,25],[5.55,36],[5.65,30],[5.8,27],[5.85,22],[5.95,33],[6.05,29],[6.15,25],[6.3,31],[6.45,27],[6.6,24],[6.65,34],[6.75,28],[6.85,36],[6.95,31],[7.1,26],[7.2,33],[7.35,38],[7.45,29],[7.55,25],[7.6,33],[7.75,30],[7.85,40],[8,34],[8.05,25],[8.15,29],[8.25,37],[8.4,31],[8.45,24],[8.55,38],[8.65,30],[8.7,21],[8.8,36],[8.85,24],[9,31],[9.1,26],[9.2,36],[9.3,20],[9.45,30],[9.45,23],[9.3,13],[9.5,12.6],[9.6,10.5],[9.85,8.4],[9.95,10],[10.05,8],[10.15,9.6],[10.25,7.4],[10.35,8.6],[10.4,10],[10.65,9.6],[10.75,11],[10.85,10],[10.95,11.5],[11.05,9.4],[11.25,10.5],[11.4,11.8],[11.5,10.2],[1.05,11],[1.4,10.8],[1.55,10.6],[2.4,9.6],[2.5,11.2],[2.95,10.4],[3.1,11]];
var dinDrp = [[4.41,85],[7.56,105],[6.23,82],[6.66,170],[6.6,490],[8.84,74],[7.6,66],[7.2,53],[7.06,47],[8.09,45],[8.66,54],[9.34,35],[8.63,37],[5.7,35],[3.41,62],[7.56,37],[4.8,33],[7.06,26],[7.7,22],[8.3,27],[9.03,15.5],[.6,5.4],[.99,7.1],[1.31,6],[1.73,4.9],[1.13,9.1],[1.49,9.5],[1.7,7.6],[2.13,5.8],[2.13,6.5],[2.63,5.8],[2.89,5.7],[2.89,9.8],[2.54,8.8],[3.27,6.5],[3.7,6.2],[3.4,11.5],[3.55,9],[3.7,20],[3.75,13],[3.8,7.5],[3.9,18],[3.95,10.5],[4,6.5],[4.1,15],[4.15,22],[4.2,9],[4.3,12.5],[4.4,7.5],[4.45,17],[4.55,11],[4.6,21],[4.65,14],[4.75,8],[4.8,18],[4.9,10],[4.95,24],[5.05,13],[5.1,7],[5.2,16],[5.3,9.5],[5.35,20],[5.45,12],[5.5,7.5],[5.6,15],[5.7,10],[5.8,18],[5.9,8],[6,13],[6.05,20],[6.15,10],[6.25,24],[6.35,15],[6.45,12],[6.55,9],[6.65,20],[6.7,14],[6.85,11],[6.63,2.7],[7.06,2.7],[7.01,1.9],[7.2,3.7],[7.49,3.7],[7.96,4.6],[7.99,2.7],[8.06,2.1],[7.91,7.4],[7.66,11.8],[7.2,11.8],[7.84,9.1],[7.03,7.4],[6.75,6.6],[6.5,7.4],[9.34,4.2],[9.37,4.1],[9.41,6.6],[9.34,9.1],[9.63,3],[9.49,1.8],[9.34,1.85],[9.55,1.75],[9.84,4.8],[10.13,4],[10.34,5.3],[10.55,4.8],[10.7,4.9],[10.34,3.15],[10.49,3],[10.27,4.2],[10.6,4.5],[10.99,6],[11.27,7.4],[11.2,4.8],[11.49,4.2],[11.41,3.6],[11.7,7.2],[11.2,6.4],[11.49,6.9],[10.2,5.5],[10.9,5.8],[3.45,8],[3.5,14],[3.55,17],[3.6,11],[3.65,7],[3.7,15],[3.75,9],[3.8,12],[3.85,22],[3.85,16],[3.9,9],[3.95,14],[4,19],[4.05,10],[4.05,7.5],[4.1,12],[4.15,17],[4.2,13],[4.25,7],[4.25,20],[4.3,9],[4.35,15],[4.4,19],[4.4,11],[4.5,14],[4.5,8],[4.55,23],[4.6,10],[4.65,17],[4.7,13],[4.75,20],[4.8,7.5],[4.85,12],[4.85,15],[4.95,9],[5,17],[5,12],[5.05,20],[5.1,10],[5.15,14],[5.2,8],[5.25,18],[5.25,11],[5.3,7],[5.35,13],[5.4,16],[5.45,9],[5.5,19],[5.55,12],[5.6,8],[5.65,17],[5.7,13],[5.7,22],[5.75,8],[5.85,15],[5.85,11],[5.95,19],[5.95,9],[6.05,14],[6.1,11],[6.2,17],[6.25,13],[6.3,19],[6.4,10],[6.45,15],[6.55,18],[6.6,12],[6.65,9],[6.75,11],[6.8,14],[1.05,9.5],[1.2,8.4],[1.25,9],[1.4,8.5],[2.05,6.5],[2.2,5.5],[2.75,9.5],[3.2,7],[3.35,7.5]];

// month axis runs J=1 .. D=12, with half month margins
var xMin = 0.545, xMax = 12.485;
var leftX = 86.7, rightX = 421.7, panelW = 278.5;
var fontName = '"Liberation Sans", Arial, sans-serif';
var frame = '#555';

var starPath = 'path://M50 0L61 35L98 35L68 57L79 91L50 70L21 91L32 57L2 35L39 35Z';
var plusPath = 'path://M50 0L50 100M0 50L100 50';
var crossPath = 'path://M0 0L100 100M0 100L100 0';

var panels = [
  {tag:'A', x:leftX, top:16.7, h:199.4, min:0, max:30, ticks:[0,10,20,30]},
  {tag:'B', x:leftX, top:243.3, h:198.7, min:25, max:65, ticks:[25,35,45,55,65]},
  {tag:'C', x:leftX, top:469.3, h:199, min:0, max:2, ticks:[0,0.5,1,1.5,2]},
  {tag:'D', x:leftX, top:695, h:199.7, min:0, max:0.2, ticks:[0,0.05,0.1,0.15,0.2], months:true},
  {tag:'E', x:rightX, top:16.7, h:199.4, min:10, max:1e8, log:true, ticks:[100,1e4,1e6,1e8], right:true},
  {tag:'F', x:rightX, top:243.3, h:651.7, min:1, max:1e5, log:true, right:true, months:true, long:true,
    ticks:[1,10,100,1000,1e4,1e5],
    minor:[2,3,4,5,6,7,8,9,20,30,40,50,60,70,80,90,200,300,400,500,600,700,800,900,2000,3000,4000,5000,6000,7000,8000,9000,2e4,3e4,4e4,5e4,6e4,7e4,8e4,9e4]}
];

// draw order inside a panel follows this list
var marks = [
  {p:0, name:'WTemp', data:wtemp, symbol:'triangle', rot:-90, size:13, fill:'#c9ae12', edge:'#111', lw:1},
  {p:0, name:'sqrt SS', data:sqrtSS, symbol:'triangle', rot:90, size:14, fill:'none', edge:'#7272ee', lw:1.6},
  {p:1, name:'TC', data:tc, symbol:'triangle', rot:0, size:13, fill:'#b5652f', edge:'#111', lw:1},
  {p:1, name:'DIC', data:dic, symbol:'triangle', rot:180, size:14, fill:'none', edge:'#0f52b4', lw:2.2},
  {p:2, name:'TN', data:tn, symbol:'diamond', rot:0, size:14, fill:'#2f8f35', edge:'#111', lw:1},
  {p:2, name:'N+N', data:nn, symbol:'circle', rot:0, size:12.5, fill:'none', edge:'#3aa1a0', lw:2},
  {p:2, name:'NH4', data:nh4, symbol:plusPath, rot:0, size:15, fill:'none', edge:'#b03234', lw:2.4},
  {p:3, name:'TP', data:tp, symbol:'rect', rot:0, size:10, fill:'#3d55e4', edge:'#20307a', lw:1},
  {p:3, name:'DRP', data:drp, symbol:crossPath, rot:0, size:11, fill:'none', edge:'#80801f', lw:2.5},
  {p:4, name:'Aphani', data:aphani, symbol:starPath, rot:0, size:16, fill:'#8370ae', edge:'#111', lw:1},
  {p:4, name:'Micro', data:micro, symbol:'rect', rot:0, size:9.5, fill:'#fff', edge:'#e8503a', lw:2.5},
  {p:5, name:'DIC:DRP', data:dicDrp, symbol:'triangle', rot:180, size:13, fill:'#b3ab12', edge:'#111', lw:1},
  {p:5, name:'TC:TP', data:tcTp, symbol:'triangle', rot:0, size:13, fill:'none', edge:'#30a035', lw:2.2},
  {p:5, name:'TC:TN', data:tcTn, symbol:'triangle', rot:-90, size:13, fill:'none', edge:'#3f8bd9', lw:2.2},
  {p:5, name:'TN:TP', data:tnTp, symbol:'triangle', rot:90, size:13, fill:'#d59b1c', edge:'#111', lw:1},
  {p:5, name:'DIN:DRP', data:dinDrp, symbol:'diamond', rot:0, size:12.5, fill:'none', edge:'#0f8468', lw:2.2},
  {p:5, name:'DIC:DIN', data:dicDin, symbol:'circle', rot:0, size:12, fill:'#d13333', edge:'#111', lw:1}
];

var grids = [], xAxes = [], yAxes = [], seriesList = [], mainY = [];

function expLabel(v){
  return '10{sup|' + Math.round(Math.log(v) / Math.LN10) + '}';
}

panels.forEach(function(p, i){
  var tickLen = p.long ? 10 : 5;
  var xTick = {show:true, length:tickLen, inside:false, lineStyle:{color:frame, width:1}, customValues:monthTicks};
  // outerBoundsMode none: keep the panels where they are, labels must not squeeze them
  grids.push({left:p.x, top:p.top, width:panelW, height:p.h, containLabel:false, show:false, outerBoundsMode:'none'});
  xAxes.push({
    type:'value', gridIndex:i, position:'bottom', min:xMin, max:xMax,
    axisLine:{show:true, onZero:false, lineStyle:{color:frame, width:1.2}},
    axisTick:xTick, splitLine:{show:false}, minorTick:{show:false},
    axisLabel:{
      show:!!p.months, customValues:monthTicks, margin:p.long ? 15 : 12, hideOverlap:false,
      fontSize:20, color:'#222', fontFamily:fontName,
      formatter:function(v){ return monthNames[Math.round(v) - 1]; }
    },
    name:p.months ? 'Month' : '', nameLocation:'middle', nameGap:p.long ? 41 : 38,
    nameMoveOverlap:false,
    nameTextStyle:{fontSize:20, color:'#222', fontFamily:fontName}
  });
  xAxes.push({
    type:'value', gridIndex:i, position:'top', min:xMin, max:xMax,
    axisLine:{show:true, onZero:false, lineStyle:{color:'#888', width:1.2}},
    axisTick:xTick, axisLabel:{show:false}, splitLine:{show:false}
  });

  var yType = p.log ? 'log' : 'value';
  var yLabel = {
    show:true, customValues:p.ticks, margin:p.right ? (p.long ? 15 : 13) : 10, hideOverlap:false,
    fontSize:p.right ? 20 : 19.5, color:'#222', fontFamily:fontName,
    formatter:p.log ? expLabel : undefined,
    rich:{sup:{fontSize:14, verticalAlign:'top', padding:[0,0,9,0], color:'#222', fontFamily:fontName}}
  };
  function yAxisOf(pos, isLabelled, vals, len, color){
    return {
      type:yType, gridIndex:i, position:pos, min:p.min, max:p.max,
      axisLine:{show:true, onZero:false, lineStyle:{color:color, width:1.2}},
      axisTick:{show:true, length:len, lineStyle:{color:frame, width:1}, customValues:vals},
      minorTick:{show:false}, splitLine:{show:false},
      axisLabel:isLabelled ? yLabel : {show:false}
    };
  }
  mainY[i] = yAxes.length;
  yAxes.push(yAxisOf(p.right ? 'right' : 'left', true, p.ticks, tickLen, p.right ? '#888' : frame));
  yAxes.push(yAxisOf(p.right ? 'left' : 'right', false, p.ticks, tickLen, p.right ? frame : '#888'));
  if(p.minor){
    yAxes.push(yAxisOf('left', false, p.minor, 5.5, frame));
    yAxes.push(yAxisOf('right', false, p.minor, 5.5, '#888'));
  }

  // month grid and the two bold lines sit under the points
  seriesList.push({
    type:'scatter', xAxisIndex:i * 2, yAxisIndex:mainY[i], data:[], z:1, silent:true,
    markLine:{
      silent:true, symbol:'none', animation:false, z:1, label:{show:false},
      lineStyle:{color:'#8a8a8a', width:1, type:[1,6]},
      data:monthTicks.map(function(m){ return {xAxis:m}; })
    }
  });
  seriesList.push({
    type:'scatter', xAxisIndex:i * 2, yAxisIndex:mainY[i], data:[], z:1, silent:true,
    markLine:{
      silent:true, symbol:'none', animation:false, z:1, label:{show:false},
      lineStyle:{color:'#000', width:3.4, type:'solid'},
      data:boldMonths.map(function(m){ return {xAxis:m}; })
    }
  });
});

marks.forEach(function(m){
  seriesList.push({
    type:'scatter', name:m.name, xAxisIndex:m.p * 2, yAxisIndex:mainY[m.p],
    data:m.data, symbol:m.symbol, symbolSize:m.size, symbolRotate:m.rot, clip:false, z:3,
    itemStyle:{color:m.fill, borderColor:m.edge, borderWidth:m.lw, opacity:1},
    emphasis:{disabled:true}, silent:true
  });
});

// zrender style keys, these go straight to the text element
var glyphRich = {
  wt:{fill:'#c9ae12', stroke:'#111', lineWidth:1, fontSize:18},
  ss:{fill:'#7272ee', fontSize:18, fontWeight:'bold'},
  tc:{fill:'#b5652f', stroke:'#111', lineWidth:1, fontSize:18},
  dc:{fill:'#0f52b4', fontSize:18, fontWeight:'bold'},
  tn:{fill:'#2f8f35', stroke:'#111', lineWidth:1, fontSize:18},
  nn:{fill:'#3aa1a0', fontSize:20, fontWeight:'bold'},
  nh:{fill:'#b03234', fontSize:24, fontWeight:'bold'},
  tp:{fill:'#3d55e4', stroke:'#20307a', lineWidth:1, fontSize:16},
  dr:{fill:'#80801f', fontSize:22, fontWeight:'bold'},
  ap:{fill:'#8370ae', stroke:'#111', lineWidth:1, fontSize:18},
  mi:{fill:'#e8503a', fontSize:19, fontWeight:'bold'},
  dd:{fill:'#b3ab12', stroke:'#111', lineWidth:1, fontSize:17},
  ct:{fill:'#30a035', fontSize:17, fontWeight:'bold'},
  di:{fill:'#d13333', stroke:'#111', lineWidth:1, fontSize:17},
  cn:{fill:'#3f8bd9', fontSize:17, fontWeight:'bold'},
  np:{fill:'#d59b1c', stroke:'#111', lineWidth:1, fontSize:17},
  dn:{fill:'#0f8468', fontSize:17, fontWeight:'bold'},
  it:{fontStyle:'italic', fontSize:20.5, fill:'#222'},
  sub:{fontSize:13, verticalAlign:'bottom', fill:'#222'},
  sup:{fontSize:13, verticalAlign:'top', fill:'#222'}
};

function sideTitle(txt, x, y, rot, size){
  return {
    type:'text', x:x, y:y, rotation:rot, silent:true, z:10,
    style:{text:txt, rich:glyphRich, fontSize:size, fontFamily:fontName, fill:'#222', align:'center', verticalAlign:'middle'}
  };
}
function panelTag(t, x, y){
  return {
    type:'text', x:x, y:y, silent:true, z:10,
    style:{text:t, fontSize:16.5, fontWeight:'bold', fontFamily:fontName, fill:'#000', align:'center', verticalAlign:'middle'}
  };
}

var up = Math.PI / 2, down = -Math.PI / 2;
var graphics = [
  sideTitle('WTemp ({wt|\u25B6}), \u221AS\u0305S\u0305 ({ss|\u25C1})', 16, 117, up, 20.5),
  sideTitle('TC ({tc|\u25B2}), DIC ({dc|\u25BD})', 16, 342, up, 20.5),
  sideTitle('TN ({tn|\u25C6}), N+N ({nn|\u25CB}), NH{sub|4}{sup|+} ({nh|+})', 16, 570, up, 20.5),
  sideTitle('TP ({tp|\u25A0}), DRP ({dr|\u00D7})', 16, 793, up, 20.5),
  sideTitle('{it|Aphani.} ({ap|\u2605}), {it|Micro.} ({mi|\u25A1})', 773, 116, down, 20.5),
  sideTitle('DIC:DRP ({dd|\u25B6}), TC:TP ({ct|\u25C1}), DIC:DIN ({di|\u25CF}), TC:TN ({cn|\u25B7}),TN:TP ({np|\u25C0}), DIN:DRP ({dn|\u25C7})', 773, 570, down, 20),
  panelTag('A', 344, 29),
  panelTag('B', 344, 256),
  panelTag('C', 344, 482),
  panelTag('D', 344, 707),
  panelTag('E', 678, 29),
  panelTag('F', 678, 255)
];

var myChart = echarts.init(document.getElementById('main'), null, {renderer:'canvas'});
myChart.setOption({
  backgroundColor:'#fff',
  animation:false,
  textStyle:{fontFamily:fontName},
  grid:grids,
  xAxis:xAxes,
  yAxis:yAxes,
  series:seriesList,
  graphic:graphics
});
</script>
</body>
</html>
